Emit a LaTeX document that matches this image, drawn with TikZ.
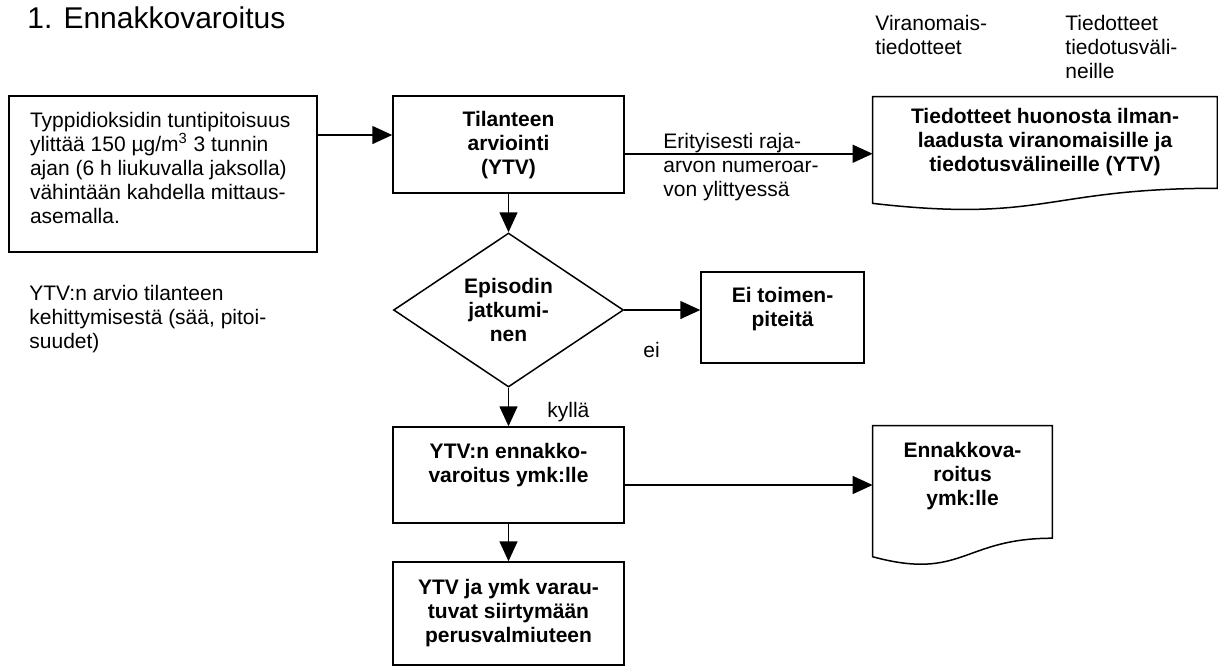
\documentclass[tikz,border=0pt]{standalone}
\usepackage{fontspec}
\setmainfont{Liberation Sans}
\usetikzlibrary{arrows.meta,shapes.geometric,calc}

% text of a box: width, height, first baseline, lines
\newcommand{\boxtext}[4]{\parbox[c][#2][t]{#1}{\centering\rule{0pt}{#3}#4}}
% document symbol round a node
\newcommand{\docoutline}[1]{%
  \draw[bline] (#1.north west) -- (#1.north east)
    -- ($(#1.north east)!0.802!(#1.south east)$)
    .. controls ($(#1.north)!0.802!(#1.south)$) and ($(#1.north)!1.107!(#1.south)$)
    .. ($(#1.north west)!0.934!(#1.south west)$) -- cycle;}

\tikzset{
  bline/.style={line width=0.75pt},
  arr/.style={bline, -{Triangle[length=10pt,width=9pt]}},
  flowbox/.style={bline, draw, rectangle, inner sep=0pt, font=\fontsize{10.5}{12}\selectfont\bfseries},
  docbox/.style={rectangle, inner sep=0pt, font=\fontsize{10.5}{12}\selectfont\bfseries},
  notetext/.style={inner sep=0pt, align=left}
}

\begin{document}
\begin{tikzpicture}[x=0.5pt, y=-0.5pt, font=\fontsize{10.5}{12}\selectfont]
\useasboundingbox (0,0) rectangle (1218,666);

\node[notetext, anchor=base west, font=\fontsize{15}{18}\selectfont] (otsikko) at (27,28) {1. Ennakkovaroitus};

\node[flowbox, font=\fontsize{10.5}{12}\selectfont, inner xsep=10.5pt] (havainto) at (163,174)
  {\parbox[c][78pt][t]{133pt}{\raggedright\rule{0pt}{15.5pt}Typpidioksidin tuntipitoisuus\\ylittää 150 µg/m\textsuperscript{3} 3 tunnin\\ajan (6 h liukuvalla jaksolla)\\vähintään kahdella mittaus-\\asemalla.}};
\node[flowbox] (tilanne) at (508.5,144.5) {\boxtext{115.5pt}{48.5pt}{15pt}{Tilanteen\\arviointi\\(YTV)}};
\node[docbox] (tied) at (1045,153.75) {\boxtext{172pt}{56.75pt}{13pt}{Tiedotteet huonosta ilman-\\laadusta viranomaisille ja\\tiedotusvälineille (YTV)}};
\docoutline{tied}

\node[diamond, bline, draw, inner sep=0pt, minimum width=115pt, minimum height=77pt, align=center,
  font=\fontsize{10.5}{12}\selectfont\bfseries] (jatko) at (508.5,310) {Episodin\\jatkumi-\\nen};
\node[flowbox] (eitoim) at (782.5,317.5) {\boxtext{81.5pt}{45.5pt}{15pt}{Ei toimen-\\piteitä}};

\node[flowbox] (ytvenn) at (508.5,475) {\boxtext{115.5pt}{48pt}{15.5pt}{YTV:n ennakko-\\varoitus ymk:lle}};
\node[docbox] (ennak) at (962.5,495.8) {\boxtext{89.5pt}{69.8pt}{15.5pt}{Ennakkova-\\roitus\\ymk:lle}};
\docoutline{ennak}
\node[flowbox] (varaut) at (508.5,613.5) {\boxtext{115.5pt}{51.5pt}{16pt}{YTV ja ymk varau-\\tuvat siirtymään\\perusvalmiuteen}};

\node[notetext, anchor=north west] (erit) at (663,133) {Erityisesti raja-\\arvon numeroar-\\von ylittyessä};
\node[notetext, anchor=north west] (viran) at (875,15) {Viranomais-\\tiedotteet};
\node[notetext, anchor=north west] (tiedv) at (1065,15) {Tiedotteet\\tiedotusväli-\\neille};
\node[notetext, anchor=north west] (arvio) at (29,285) {YTV:n arvio tilanteen\\kehittymisestä (sää, pitoi-\\suudet)};
\node[notetext, anchor=base west] (ei) at (643,357) {ei};
\node[notetext, anchor=base west] (kylla) at (547,417) {kyllä};

\coordinate (p1) at ([yshift=4.75pt]tilanne.west);
\draw[arr] (havainto.east |- p1) -- (p1);
\draw[arr] (tilanne.east |- tied.west) -- (tied.west);
\draw[arr] (tilanne.south) -- (jatko.north);
\draw[arr] (jatko.east) -- (jatko.east -| eitoim.west);
\draw[arr] (jatko.south) -- (ytvenn.north);
\coordinate (p2) at ([yshift=-5pt]ytvenn.east);
\draw[arr] (p2) -- (p2 -| ennak.west);
\draw[arr] (ytvenn.south) -- (varaut.north);
\end{tikzpicture}
\end{document}
